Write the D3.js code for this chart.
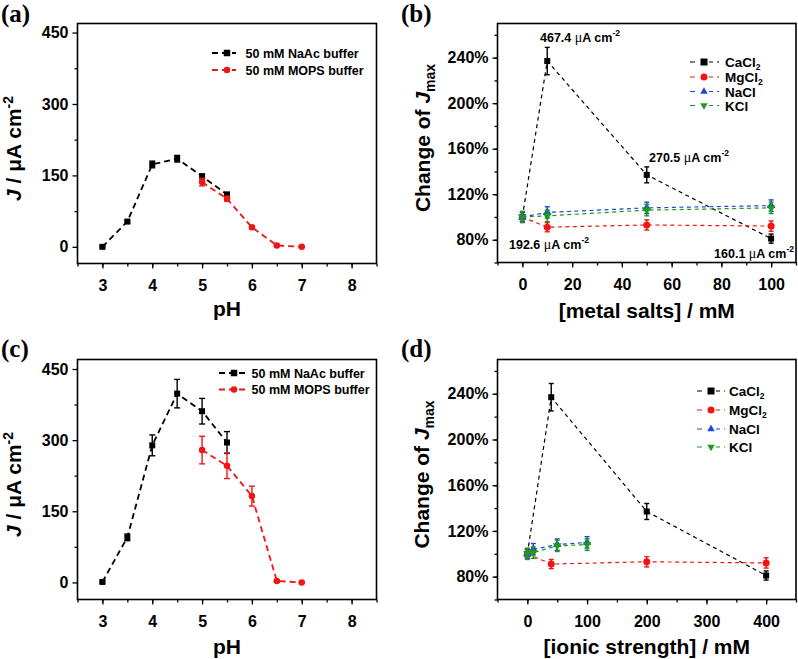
<!DOCTYPE html>
<html><head><meta charset="utf-8">
<script src="https://cdn.jsdelivr.net/npm/d3@7"></script>
<style>
body{margin:0;background:#fff}
svg{display:block}
text{font-weight:bold;fill:#000}
</style>
</head><body>
<svg id="chart" width="798" height="659"></svg>
<script>
// ---------- data ----------
// panels (a) and (c): pH dependence
const pHNaAc = [3, 3.5, 4, 4.5, 5, 5.5];
const pHMOPS = [5, 5.5, 6, 6.5, 7];
const jNaAcA = [0, 53, 173, 185, 148, 110];
const errNaAcA = [2, 3, 7, 7, 5, 4];
const jMOPSA = [136, 101, 41, 3, 0];
const errMOPSA = [8, 5, 3, 2, 1];
const jNaAcC = [1, 95, 289, 398, 361, 295];
const errNaAcC = [2, 7, 22, 30, 27, 23];
const jMOPSC = [279, 246, 182, 3, 0];
const errMOPSC = [29, 27, 21, 2, 1];
const pHTicks = [3, 4, 5, 6, 7, 8];
const jTicks = [0, 150, 300, 450];

// panel (b): metal salt concentration (mM)
const saltConc = [0, 10, 50, 100];
const caB = [100, 237, 137, 81];
const caErrB = [4, 12, 7, 4];
const mgB = [100, 91, 93, 92];
const mgErrB = [4, 4, 4.5, 4.5];
const naB = [100, 104, 108, 110];
const naErrB = [4, 5, 5, 5];
const kB = [100, 101, 106, 108];
const kErrB = [5, 5, 5, 5];
const saltTicks = [0, 20, 40, 60, 80, 100];

// panel (d): ionic strength (mM)
const ionicDivalent = [0, 40, 200, 400];
const ionicMonovalent = [0, 10, 50, 100];
const caD = [100, 237, 137, 81];
const caErrD = [4, 12, 7, 4];
const mgD = [100, 91, 93, 92];
const mgErrD = [4, 4, 4.5, 4.5];
const naD = [100, 104, 108, 110];
const naErrD = [4, 5, 5, 5];
const kD = [100, 101, 107, 108];
const kErrD = [5, 5, 5, 5];
const ionicTicks = [0, 100, 200, 300, 400];
const pctTicks = [80, 120, 160, 200, 240];

const saltNames = ["CaCl", "MgCl", "NaCl", "KCl"];
const saltSubs = ["2", "2", "", ""];
const bufferNames = ["50 mM NaAc buffer", "50 mM MOPS buffer"];
const annotB = ["467.4", "270.5", "192.6", "160.1"];

// ---------- drawing ----------
const SANS = '"Liberation Sans",Arial,sans-serif';
const SERIF = '"Liberation Serif","Times New Roman",serif';
const svg = d3.select("#chart");
const RED = "#f01414", BLUE = "#2244dd", GREEN = "#1e9a1e", BLACK = "#000";

function marker(g, type, cx, cy, color, s) {
  if (type === "square") {
    g.append("rect").attr("x", cx - s/2).attr("y", cy - s/2).attr("width", s).attr("height", s).attr("fill", color);
  } else if (type === "circle") {
    g.append("circle").attr("cx", cx).attr("cy", cy).attr("r", s/2).attr("fill", color);
  } else {
    const sym = d3.symbol().type(d3.symbolTriangle).size(s*s*0.5);
    g.append("path").attr("d", sym()).attr("fill", color)
      .attr("transform", `translate(${cx},${cy}) rotate(${type === "down" ? 180 : 0})`);
  }
}

function txt(g) { return g.append("text").style("font-family", SANS).attr("font-weight", "bold"); }

function makePanel(o) {
  const g = svg.append("g");
  const x = d3.scaleLinear().domain(o.xDomain).range([o.left, o.right]);
  const y = d3.scaleLinear().domain(o.yDomain).range([o.bottom, o.top]);

  const xMinor = d3.range(o.xDomain[0], o.xDomain[1] + 1e-9, o.xMinorStep);
  const yMinor = d3.range(o.yMinorStart, o.yDomain[1] + 1e-9, o.yMinorStep);
  const xa = g.append("g").attr("transform", `translate(0,${o.bottom})`)
    .call(d3.axisBottom(x).tickValues(xMinor).tickSize(3).tickFormat(""));
  const ya = g.append("g").attr("transform", `translate(${o.left},0)`)
    .call(d3.axisLeft(y).tickValues(yMinor).tickSize(3).tickFormat(""));
  const xb = g.append("g").attr("transform", `translate(0,${o.bottom})`)
    .call(d3.axisBottom(x).tickValues(o.xTicks).tickSize(5).tickPadding(6).tickFormat(o.xFmt || (d => d)));
  const yb = g.append("g").attr("transform", `translate(${o.left},0)`)
    .call(d3.axisLeft(y).tickValues(o.yTicks).tickSize(5).tickPadding(4).tickFormat(o.yFmt || (d => d)));
  [xa, ya, xb, yb].forEach(a => {
    a.select(".domain").remove();
    a.selectAll(".tick line").attr("stroke", "#000").attr("stroke-width", 1.3);
    a.selectAll("text").attr("font-size", 16).style("font-family", SANS).attr("font-weight", "bold").attr("fill", "#000");
  });
  xb.selectAll("text").attr("dy", "1em");
  g.append("rect").attr("x", o.left).attr("y", o.top).attr("width", o.right - o.left).attr("height", o.bottom - o.top)
    .attr("fill", "none").attr("stroke", "#000").attr("stroke-width", 1.6);

  const plot = g.append("g");
  o.series.forEach(s => {
    const pts = s.xs.map((xv, i) => [x(xv), y(s.ys[i]), s.errs[i]]);
    plot.append("path").attr("d", d3.line()(pts.map(p => [p[0], p[1]])))
      .attr("fill", "none").attr("stroke", s.color).attr("stroke-width", o.lw).attr("stroke-dasharray", o.dash);
    pts.forEach((p, i) => {
      const e = s.ys[i];
      const yt = y(e + p[2]), yb2 = y(e - p[2]);
      if (p[2] > 0) {
        plot.append("line").attr("x1", p[0]).attr("x2", p[0]).attr("y1", yt).attr("y2", yb2).attr("stroke", s.color).attr("stroke-width", 1.4);
        [yt, yb2].forEach(yy => plot.append("line").attr("x1", p[0] - o.cap).attr("x2", p[0] + o.cap).attr("y1", yy).attr("y2", yy).attr("stroke", s.color).attr("stroke-width", 1.4));
      }
      marker(plot, s.type, p[0], p[1], s.color, s.size);
    });
  });

  txt(g).attr("x", (o.left + o.right) / 2).attr("y", o.bottom + o.xTitleDy)
    .attr("text-anchor", "middle").attr("font-size", 21).text(o.xTitle);
  const ytl = txt(g).attr("transform", `translate(${o.yTitleX},${(o.top + o.bottom) / 2 + o.yTitleShift}) rotate(-90)`)
    .attr("text-anchor", "middle").attr("font-size", 21);
  o.yTitle(ytl);

  g.append("text").attr("x", o.labelX).attr("y", o.labelY)
    .style("font-family", SERIF).attr("font-weight", "bold").attr("font-size", 25).text(o.label);

  return {g, x, y};
}

function jTitle(t) {
  t.append("tspan").attr("font-style", "italic").text("J");
  t.append("tspan").text(" / \u03bcA cm");
  t.append("tspan").attr("font-size", 14).attr("dy", -8).text("-2");
}
function jmaxTitle(t) {
  t.append("tspan").text("Change of ");
  t.append("tspan").attr("font-style", "italic").text("J");
  t.append("tspan").attr("font-size", 14).attr("dy", 5).text("max");
}

function bufferLegend(g, lx, ly, tx) {
  const cols = [BLACK, RED], types = ["square", "circle"];
  bufferNames.forEach((nm, i) => {
    const yy = ly[i];
    g.append("line").attr("x1", lx[0]).attr("x2", lx[1]).attr("y1", yy).attr("y2", yy)
      .attr("stroke", cols[i]).attr("stroke-width", 1.8).attr("stroke-dasharray", "6,4");
    marker(g, types[i], lx[2], yy, cols[i], 6.5);
    txt(g).attr("x", tx).attr("y", yy + 4.5).attr("font-size", 12.5).text(nm);
  });
}

function saltLegend(g, ys, lx, tx) {
  const cols = [BLACK, RED, BLUE, GREEN], types = ["square", "circle", "up", "down"];
  saltNames.forEach((nm, i) => {
    const yy = ys[i];
    g.append("line").attr("x1", lx[0]).attr("x2", lx[1]).attr("y1", yy).attr("y2", yy)
      .attr("stroke", cols[i]).attr("stroke-width", 1.2).attr("stroke-dasharray", "5,4");
    g.append("rect").attr("x", lx[2] - 5).attr("y", yy - 5).attr("width", 10).attr("height", 10).attr("fill", "#fff");
    marker(g, types[i], lx[2], yy, cols[i], 7);
    const t = txt(g).attr("x", tx).attr("y", yy + 5).attr("font-size", 13.5).text(nm);
    if (saltSubs[i]) t.append("tspan").attr("font-size", 8.5).attr("dy", 2.5).text(saltSubs[i]);
  });
}

function annot(g, label, x0, yb, anchor) {
  const t = txt(g).attr("x", x0).attr("y", yb).attr("font-size", 12.5).attr("text-anchor", anchor || "start");
  t.append("tspan").text(label + " ");
  t.append("tspan").style("font-family", SERIF).attr("font-weight", "normal").attr("font-size", 14).text("\u03bc");
  t.append("tspan").text("A cm");
  t.append("tspan").attr("font-size", 8.5).attr("dy", -6).text("-2");
}

// ---------- panel (a) ----------
const pA = makePanel({
  left: 77.5, right: 376.5, top: 23.5, bottom: 263.5,
  xDomain: [2.5, 8.5], yDomain: [-35, 469], xMinorStep: 0.5, yMinorStart: 75, yMinorStep: 150,
  xTicks: pHTicks, yTicks: jTicks, lw: 1.8, dash: "6,4", cap: 3,
  series: [
    {xs: pHNaAc, ys: jNaAcA, errs: errNaAcA, color: BLACK, type: "square", size: 6},
    {xs: pHMOPS, ys: jMOPSA, errs: errMOPSA, color: RED, type: "circle", size: 6.5}
  ],
  xTitle: "pH", xTitleDy: 52, yTitle: jTitle, yTitleX: 21, yTitleShift: 5,
  label: "(a)", labelX: 1, labelY: 22
});
bufferLegend(pA.g, [212, 236, 227], [53, 70], 245.5);

// ---------- panel (c) ----------
const pC = makePanel({
  left: 77.5, right: 376.5, top: 359.5, bottom: 599.5,
  xDomain: [2.5, 8.5], yDomain: [-36, 470], xMinorStep: 0.5, yMinorStart: 75, yMinorStep: 150,
  xTicks: pHTicks, yTicks: jTicks, lw: 1.8, dash: "6,4", cap: 3,
  series: [
    {xs: pHNaAc, ys: jNaAcC, errs: errNaAcC, color: BLACK, type: "square", size: 6},
    {xs: pHMOPS, ys: jMOPSC, errs: errMOPSC, color: RED, type: "circle", size: 6.5}
  ],
  xTitle: "pH", xTitleDy: 54, yTitle: jTitle, yTitleX: 21, yTitleShift: 5,
  label: "(c)", labelX: 1, labelY: 357
});
bufferLegend(pC.g, [219, 245, 234], [373, 389.5], 251.5);

// ---------- panel (b) ----------
const pB = makePanel({
  left: 497.5, right: 796, top: 23.5, bottom: 262.5,
  xDomain: [-10, 110], yDomain: [60, 270], xMinorStep: 10, yMinorStart: 60, yMinorStep: 20,
  xTicks: saltTicks, yTicks: pctTicks, yFmt: d => d + "%", lw: 1.2, dash: "4,3.5", cap: 2.5,
  series: [
    {xs: saltConc, ys: caB, errs: caErrB, color: BLACK, type: "square", size: 6},
    {xs: saltConc, ys: mgB, errs: mgErrB, color: RED, type: "circle", size: 7},
    {xs: saltConc, ys: naB, errs: naErrB, color: BLUE, type: "up", size: 8},
    {xs: saltConc, ys: kB, errs: kErrB, color: GREEN, type: "down", size: 8}
  ],
  xTitle: "[metal salts] / mM", xTitleDy: 55, yTitle: jmaxTitle, yTitleX: 430, yTitleShift: -5,
  label: "(b)", labelX: 401, labelY: 22
});
saltLegend(pB.g, [62, 77, 91.5, 105.5], [690, 719, 704], 725);
annot(pB.g, annotB[0], 540, 41.5);
annot(pB.g, annotB[1], 649, 161.5);
annot(pB.g, annotB[2], 509, 248.5);
annot(pB.g, annotB[3], 794, 257.5, "end");

// ---------- panel (d) ----------
const pD = makePanel({
  left: 497.5, right: 796, top: 359.5, bottom: 599.5,
  xDomain: [-50, 450], yDomain: [60, 270], xMinorStep: 50, yMinorStart: 60, yMinorStep: 20,
  xTicks: ionicTicks, yTicks: pctTicks, yFmt: d => d + "%", lw: 1.2, dash: "4,3.5", cap: 2.5,
  series: [
    {xs: ionicDivalent, ys: caD, errs: caErrD, color: BLACK, type: "square", size: 6},
    {xs: ionicDivalent, ys: mgD, errs: mgErrD, color: RED, type: "circle", size: 7},
    {xs: ionicMonovalent, ys: naD, errs: naErrD, color: BLUE, type: "up", size: 8},
    {xs: ionicMonovalent, ys: kD, errs: kErrD, color: GREEN, type: "down", size: 8}
  ],
  xTitle: "[ionic strength] / mM", xTitleDy: 54, yTitle: jmaxTitle, yTitleX: 429, yTitleShift: -5,
  label: "(d)", labelX: 401, labelY: 357
});
saltLegend(pD.g, [391, 410, 429, 447], [697, 725, 711], 729);
</script>
</body></html>
